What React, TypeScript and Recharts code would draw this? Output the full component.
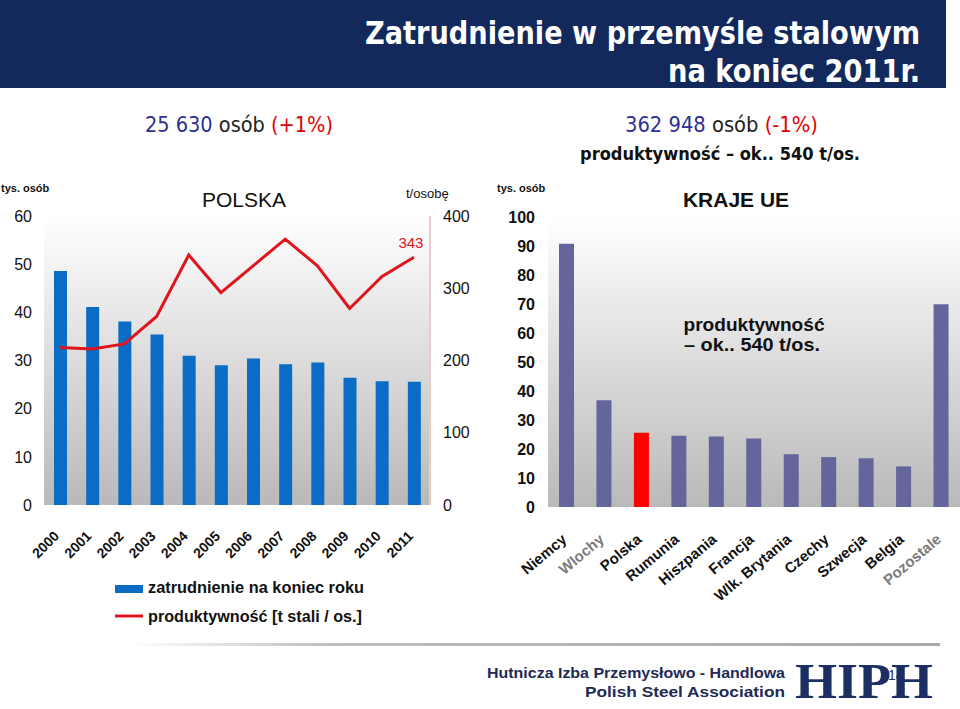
import React from 'react';
import { ComposedChart, BarChart, Bar, Line, XAxis, YAxis, CartesianGrid, Cell } from 'recharts';

const years = ['2000', '2001', '2002', '2003', '2004', '2005', '2006', '2007', '2008', '2009', '2010', '2011'];
const employment = [48.6, 41.1, 38.1, 35.4, 31.0, 29.0, 30.4, 29.2, 29.6, 26.4, 25.7, 25.6];
const productivity = [218, 216, 223, 261, 346, 294, 331, 368, 331, 272, 316, 343];
const leftTicks = [0, 10, 20, 30, 40, 50, 60];
const rightTicks = [0, 100, 200, 300, 400];

const countries = ['Niemcy', 'Wlochy', 'Polska', 'Rumunia', 'Hiszpania', 'Francja', 'Wlk. Brytania', 'Czechy', 'Szwecja', 'Belgia', 'Pozostale'];
const euEmployment = [90.8, 36.8, 25.6, 24.6, 24.3, 23.6, 18.2, 17.2, 16.8, 14.0, 69.9];
const euTicks = [0, 10, 20, 30, 40, 50, 60, 70, 80, 90, 100];

const ARIAL = "'Liberation Sans', Arial, sans-serif";
const NARROW = "'Liberation Sans Narrow', 'DejaVu Sans Condensed', 'Liberation Sans', sans-serif";
const NAVY = '#13295b';

export default function App() {
  const polandData = years.map((y, i) => ({ year: y, emp: employment[i], prod: productivity[i] }));
  const euData = countries.map((c, i) => ({ name: c, emp: euEmployment[i] }));

  const YearTick = ({ x, y, payload }: any) => (
    <text transform={`translate(${x},${y + 30}) rotate(-45)`} textAnchor="end" fontFamily={ARIAL} fontSize={14} fontWeight="bold" fill="#111">
      {payload.value}
    </text>
  );

  const CountryTick = ({ x, y, payload }: any) => {
    const light = payload.value === 'Wlochy' || payload.value === 'Pozostale';
    return (
      <text transform={`translate(${x + 1},${y + 32}) rotate(-40)`} textAnchor="end" fontFamily={ARIAL} fontSize={15} fontWeight="bold" fill={light ? '#7a7a7a' : '#111'}>
        {payload.value}
      </text>
    );
  };

  const lastLabel = (props: any) => {
    if (props.index !== years.length - 1) return null;
    return (
      <text x={props.x - 3} y={props.y - 9} textAnchor="middle" fontFamily={ARIAL} fontSize={15} fill="#e0141c">
        {props.value}
      </text>
    );
  };

  return (
    <div style={{ position: 'absolute', left: 0, top: 0, width: 960, height: 709, background: '#fff', overflow: 'hidden' }}>
      {/* POLSKA */}
      <div style={{ position: 'absolute', left: 0, top: 170 }}>
        <ComposedChart width={480} height={415} data={polandData} margin={{ top: 46, right: 0, left: 0, bottom: 0 }}>
          <defs>
            <linearGradient id="bgLeft" x1="0" y1="0" x2="0" y2="1">
              <stop offset="0%" stopColor="#ffffff" />
              <stop offset="100%" stopColor="#b9b9b9" />
            </linearGradient>
          </defs>
          <CartesianGrid horizontal={false} vertical={false} fill="url(#bgLeft)" />
          <XAxis dataKey="year" axisLine={false} tickLine={false} tickSize={0} height={80} interval={0} tick={<YearTick />} />
          <YAxis yAxisId="left" domain={[0, 60]} ticks={leftTicks} width={44} axisLine={false} tickLine={false} tickSize={0} tickMargin={12}
            tick={{ fill: '#111', fontSize: 16, fontFamily: ARIAL }} />
          <YAxis yAxisId="right" orientation="right" domain={[0, 400]} ticks={rightTicks} width={50} axisLine={{ stroke: '#e6cccc', strokeWidth: 2 }} tickLine={false} tickSize={0} tickMargin={13}
            tick={{ fill: '#111', fontSize: 16, fontFamily: ARIAL, textAnchor: 'start' }} />
          <Bar yAxisId="left" dataKey="emp" fill="#0a6cc4" barSize={13} isAnimationActive={false} />
          <Line yAxisId="right" dataKey="prod" type="linear" stroke="#e0141c" strokeWidth={3} dot={false} label={lastLabel} isAnimationActive={false} />
        </ComposedChart>
      </div>

      {/* KRAJE UE */}
      <div style={{ position: 'absolute', left: 490, top: 170 }}>
        <BarChart width={470} height={447} data={euData} margin={{ top: 47, right: 0, left: 0, bottom: 0 }}>
          <defs>
            <linearGradient id="bgRight" x1="0" y1="0" x2="0" y2="1">
              <stop offset="0%" stopColor="#ffffff" />
              <stop offset="100%" stopColor="#b9b9b9" />
            </linearGradient>
          </defs>
          <CartesianGrid horizontal={false} vertical={false} fill="url(#bgRight)" />
          <XAxis dataKey="name" axisLine={false} tickLine={false} tickSize={0} height={110} interval={0} tick={<CountryTick />} />
          <YAxis domain={[0, 100]} ticks={euTicks} width={58} axisLine={false} tickLine={false} tickSize={0} tickMargin={13}
            tick={{ fill: '#111', fontSize: 16, fontWeight: 'bold', fontFamily: ARIAL }} />
          <Bar dataKey="emp" barSize={15} isAnimationActive={false}>
            {euData.map((d, i) => (
              <Cell key={i} fill={d.name === 'Polska' ? '#ff0000' : '#64659a'} />
            ))}
          </Bar>
        </BarChart>
      </div>

      {/* slide texts */}
      <svg width={960} height={709} style={{ position: 'absolute', left: 0, top: 0, pointerEvents: 'none' }}>
        <defs>
          <linearGradient id="footLine" x1="0" y1="0" x2="1" y2="0">
            <stop offset="0%" stopColor="#ffffff" />
            <stop offset="25%" stopColor="#bdbdbd" />
            <stop offset="100%" stopColor="#a9a9a9" />
          </linearGradient>
        </defs>
        <rect x={0} y={0} width={946} height={88} fill={NAVY} />
        <text x={920} y={44} textAnchor="end" fontFamily={NARROW} fontSize={32} fontWeight="bold" fill="#fff" textLength={555} lengthAdjust="spacingAndGlyphs">
          Zatrudnienie w przemyśle stalowym
        </text>
        <text x={920} y={82} textAnchor="end" fontFamily={NARROW} fontSize={32} fontWeight="bold" fill="#fff" textLength={252} lengthAdjust="spacingAndGlyphs">
          na koniec 2011r.
        </text>

        <text x={145} y={132} fontFamily={NARROW} fontSize={21} textLength={188} lengthAdjust="spacingAndGlyphs">
          <tspan fill="#2e3192">25 630</tspan><tspan fill="#222"> osób </tspan><tspan fill="#e00000">(+1%)</tspan>
        </text>
        <text x={625} y={132} fontFamily={NARROW} fontSize={21} textLength={193} lengthAdjust="spacingAndGlyphs">
          <tspan fill="#2e3192">362 948</tspan><tspan fill="#222"> osób </tspan><tspan fill="#e00000">(-1%)</tspan>
        </text>
        <text x={580} y={160} fontFamily={NARROW} fontSize={18} fontWeight="bold" fill="#111" textLength={280} lengthAdjust="spacingAndGlyphs">
          produktywność – ok.. 540 t/os.
        </text>

        <text x={1} y={192} fontFamily={ARIAL} fontSize={11} fontWeight="bold" fill="#111">tys. osób</text>
        <text x={244} y={207} textAnchor="middle" fontFamily={ARIAL} fontSize={21} fill="#111">POLSKA</text>
        <text x={406} y={198} fontFamily={ARIAL} fontSize={13} fill="#111">t/osobę</text>

        <text x={497} y={192} fontFamily={ARIAL} fontSize={11} fontWeight="bold" fill="#111">tys. osób</text>
        <text x={736} y={207} textAnchor="middle" fontFamily={ARIAL} fontSize={21} fontWeight="bold" fill="#111">KRAJE UE</text>
        <text x={754} y={331} textAnchor="middle" fontFamily={ARIAL} fontSize={18} fontWeight="bold" fill="#111" textLength={141} lengthAdjust="spacingAndGlyphs">produktywność</text>
        <text x={752} y={351} textAnchor="middle" fontFamily={ARIAL} fontSize={18} fontWeight="bold" fill="#111" textLength={136} lengthAdjust="spacingAndGlyphs">– ok.. 540 t/os.</text>

        {/* legend */}
        <rect x={115} y={585} width={28} height={8} fill="#0a6cc4" />
        <text x={148} y={593} fontFamily={ARIAL} fontSize={16} fontWeight="bold" fill="#111" textLength={216} lengthAdjust="spacingAndGlyphs">zatrudnienie na koniec roku</text>
        <line x1={115} y1={616} x2={143} y2={616} stroke="#e0141c" strokeWidth={3} />
        <text x={148} y={622} fontFamily={ARIAL} fontSize={16} fontWeight="bold" fill="#111" textLength={214} lengthAdjust="spacingAndGlyphs">produktywność [t stali / os.]</text>

        {/* footer */}
        <rect x={130} y={643} width={810} height={3} fill="url(#footLine)" />
        <text x={785} y={678} textAnchor="end" fontFamily={ARIAL} fontSize={15} fontWeight="bold" fill="#1f2a55" textLength={298} lengthAdjust="spacingAndGlyphs">Hutnicza Izba Przemysłowo - Handlowa</text>
        <text x={785} y={697} textAnchor="end" fontFamily={ARIAL} fontSize={15} fontWeight="bold" fill="#1f2a55" textLength={200} lengthAdjust="spacingAndGlyphs">Polish Steel Association</text>
        <text x={795} y={698} fontFamily="'Liberation Serif', 'DejaVu Serif', serif" fontSize={50} fontWeight="bold" fill="#1b2f63" textLength={138} lengthAdjust="spacingAndGlyphs">HIPH</text>
        <text x={888} y={680} fontFamily={ARIAL} fontSize={14} fill="#1b2f63">14</text>
      </svg>
    </div>
  );
}
